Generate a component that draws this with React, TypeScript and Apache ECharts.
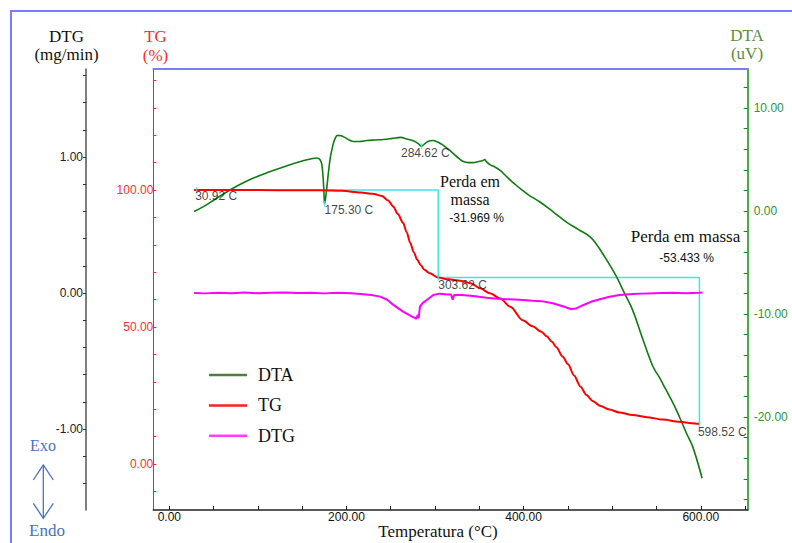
import React, { useEffect, useRef } from "react";
import * as echarts from "echarts";

// ---- Data ----
const tgTemps = [28, 30.92, 60, 100, 140, 170, 195, 216, 230, 240, 247, 253, 258, 264, 268, 272, 276, 280, 284, 288, 294, 303.62, 315, 328, 340, 351, 362, 373.5, 385, 399, 410, 420, 426, 432, 437, 444, 450, 457, 464, 471, 478, 486, 497, 508, 523, 539, 557, 576, 590, 598.52];
const tgValues = [100.0, 100.0, 100.0, 100.0, 99.9, 99.9, 99.7, 99.1, 98.6, 97.8, 96.2, 93.9, 91.2, 88.0, 84.6, 80.7, 77.3, 74.5, 72.5, 70.9, 69.6, 68.03, 67.4, 66.9, 66.0, 64.1, 62.3, 60.4, 57.4, 52.5, 50.3, 48.3, 46.6, 44.6, 42.6, 39.2, 36.5, 32.3, 28.3, 25.2, 23.0, 21.3, 19.9, 18.8, 17.9, 17.1, 16.2, 15.4, 14.9, 14.6];

const dtaTemps = [28, 40, 50, 62, 77, 95, 115, 133, 152, 162, 167, 170, 172, 173.5, 174.5, 175.3, 176.5, 178, 180, 182, 184.5, 187, 190, 194, 198, 203, 208, 215, 223, 232, 242, 252, 261, 268, 276, 281, 284.62, 288, 292, 297, 303, 309, 315, 321, 327, 332, 338, 343, 349, 354, 356, 358, 362, 368, 373.5, 379, 385, 391, 396, 405, 418, 433, 448, 462, 475, 482, 489, 497, 505, 514, 523, 534, 546, 553, 561, 569, 576, 584, 591, 601.5];
const dtaValues = [-0.05, 0.5, 1.05, 1.7, 2.45, 3.2, 3.85, 4.4, 4.9, 5.1, 5.15, 5.0, 4.6, 3.4, 2.0, 0.7, 1.3, 2.4, 4.0, 5.3, 6.3, 7.0, 7.35, 7.3, 7.15, 6.9, 6.75, 6.75, 6.85, 6.9, 6.95, 7.05, 7.15, 7.0, 6.8, 6.55, 6.3, 6.5, 6.75, 6.85, 6.7, 6.4, 6.0, 5.55, 5.1, 4.8, 4.7, 4.7, 4.8, 4.9, 5.0, 4.8, 4.5, 4.25, 3.95, 3.5, 3.0, 2.55, 2.2, 1.6, 0.9, -0.05, -1.05, -1.8, -2.5, -3.2, -4.1, -5.2, -6.4, -8.0, -9.6, -12.3, -15.1, -16.1, -17.4, -18.7, -20.0, -21.6, -22.9, -25.95];

const dtgTemps = [28, 40, 55, 70, 85, 100, 115, 130, 145, 160, 175, 190, 205, 216, 228, 238, 246, 253, 259, 264, 270, 274, 277, 279, 280.5, 281.5, 283, 286, 291, 298, 305, 312, 318, 320, 321.5, 330, 343, 358, 370, 381, 395, 410, 420, 433, 445, 454, 460, 467, 476, 486, 497, 508, 523, 540, 555, 568, 583, 598, 602];
const dtgValues = [0.0, -0.003, 0.002, -0.002, 0.003, -0.002, 0.001, 0.004, -0.001, 0.002, -0.003, 0.001, -0.002, -0.007, -0.015, -0.027, -0.05, -0.088, -0.115, -0.137, -0.16, -0.174, -0.182, -0.19, -0.16, -0.186, -0.1, -0.075, -0.05, -0.015, -0.005, -0.01, -0.012, -0.05, -0.015, -0.015, -0.022, -0.035, -0.042, -0.046, -0.05, -0.057, -0.06, -0.076, -0.1, -0.12, -0.112, -0.09, -0.065, -0.046, -0.028, -0.015, -0.008, -0.003, 0.0, 0.001, -0.002, 0.002, 0.004];

// mass loss step (TG axis)
const stepTemps = [30.92, 303.62, 303.62, 598.52, 598.52];
const stepValues = [100.0, 100.0, 68.031, 68.031, 14.598];

// temperature markers
const tgMarkTemps = [30.92, 303.62, 598.52];
const tgMarkValues = [100.0, 68.031, 14.598];
const tgMarkLabels = ["30.92 C", "303.62 C", "598.52 C"];
const dtaMarkTemps = [175.3, 284.62];
const dtaMarkValues = [0.7, 6.3];
const dtaMarkLabels = ["175.30 C", "284.62 C"];

// ticks
const xTicks = [0, 50, 100, 150, 200, 250, 300, 350, 400, 450, 500, 550, 600, 650];
const xLabels = [0, 200, 400, 600];
const tgTicks = [-10, 0, 10, 20, 30, 40, 50, 60, 70, 80, 90, 100, 110, 120, 130, 140];
const tgLabels = [0, 50, 100];
const dtgTicks = [-1.4, -1.2, -1.0, -0.8, -0.6, -0.4, -0.2, 0, 0.2, 0.4, 0.6, 0.8, 1.0, 1.2, 1.4, 1.6];
const dtgLabels = [-1, 0, 1];
const dtaTicks = [-28, -26, -24, -22, -20, -18, -16, -14, -12, -10, -8, -6, -4, -2, 0, 2, 4, 6, 8, 10, 12];
const dtaLabels = [-20, -10, 0, 10];

const zip = (a: number[], b: number[]) => a.map((v, i) => [v, b[i]]);

const SANS = "Liberation Sans";
const SERIF = "Liberation Serif";

export default function App() {
  const ref = useRef<HTMLDivElement>(null);
  useEffect(() => {
    if (!ref.current) return;
    const chart = echarts.init(ref.current, undefined, { renderer: "svg" });
    const fmt = (v: number) => Number(v).toFixed(2);
    const txt = (text: string, x: number, y: number, opts: any = {}) => ({
      type: "text",
      x,
      y,
      silent: true,
      style: {
        text,
        font: `${opts.size || 17}px "${opts.family || SERIF}"`,
        fill: opts.color || "#111",
        align: opts.align || "center",
        verticalAlign: "middle",
      },
    });
    const markLabel = (dx: number, dy: number) => ({
      show: true,
      position: ["50%", "50%"],
      align: "left",
      verticalAlign: "middle",
      offset: [dx, dy],
      formatter: "{b}",
      color: "#111",
      fontFamily: SANS,
      fontSize: 12,
    });
    const tgOffsets = [[-1.5, 6.5], [0, 7.4], [-1.5, 7.7]];
    const dtaOffsets = [[0, 6.5], [-20.4, 7.3]];
    const blue = "#4a70c8";

    chart.setOption({
      animation: false,
      backgroundColor: "#ffffff",
      grid: { left: 153.3, right: 44.3, top: 69, bottom: 33 },
      legend: {
        data: [
          { name: "DTA", itemStyle: { color: "#4e7d3c" } },
          { name: "TG", itemStyle: { color: "#ff2020" } },
          { name: "DTG", itemStyle: { color: "#ff40ff" } },
        ],
        icon: "rect",
        orient: "vertical",
        left: 204,
        top: 361,
        itemWidth: 38,
        itemHeight: 2.5,
        itemGap: 12.4,
        textStyle: { fontFamily: SERIF, fontSize: 18, color: "#111", lineHeight: 18, padding: [0, 0, 0, 6] },
      },
      xAxis: [
        {
          type: "value",
          position: "bottom",
          min: -18.06,
          max: 653,
          axisLine: { show: true, onZero: false, lineStyle: { color: "#222", width: 1.5 } },
          axisTick: { show: true, inside: true, length: 4, customValues: xTicks, lineStyle: { color: "#222" } },
          axisLabel: { customValues: xLabels, formatter: fmt, color: "#111", fontFamily: SANS, fontSize: 12, margin: 1 },
          splitLine: { show: false },
        },
        {
          type: "value",
          position: "top",
          min: -18.06,
          max: 653,
          axisLine: { show: true, onZero: false, lineStyle: { color: "#7b7bff", width: 2 } },
          axisTick: { show: false },
          axisLabel: { show: false },
          splitLine: { show: false },
        },
      ],
      yAxis: [
        {
          type: "value",
          position: "left",
          offset: 0,
          min: -16.79,
          max: 144.16,
          axisLine: { show: true, onZero: false, lineStyle: { color: "#ff2020", width: 1 } },
          axisTick: { show: true, inside: true, length: 3, customValues: tgTicks, lineStyle: { color: "#ff2020" } },
          axisLabel: { customValues: tgLabels, formatter: fmt, color: "#ff3030", fontFamily: SANS, fontSize: 12, margin: 0 },
          splitLine: { show: false },
        },
        {
          type: "value",
          position: "left",
          offset: 67.3,
          min: -1.596,
          max: 1.647,
          axisLine: { show: true, onZero: false, lineStyle: { color: "#555", width: 1.5 } },
          axisTick: { show: true, inside: false, length: 3, customValues: dtgTicks, lineStyle: { color: "#333" } },
          axisLabel: { customValues: dtgLabels, formatter: fmt, color: "#222", fontFamily: SANS, fontSize: 12, margin: 3 },
          splitLine: { show: false },
        },
        {
          type: "value",
          position: "right",
          offset: 0,
          min: -29.03,
          max: 13.79,
          axisLine: { show: true, onZero: false, lineStyle: { color: "#0f8f0f", width: 1.5 } },
          axisTick: { show: true, inside: true, length: 4, customValues: dtaTicks, lineStyle: { color: "#0f8f0f" } },
          axisLabel: { customValues: dtaLabels, formatter: fmt, color: "#2e962e", fontFamily: SANS, fontSize: 12, margin: 6 },
          splitLine: { show: false },
        },
      ],
      series: [
        {
          name: "Step",
          type: "line",
          xAxisIndex: 0,
          yAxisIndex: 0,
          data: zip(stepTemps, stepValues),
          symbol: "none",
          lineStyle: { color: "#40e4ee", width: 1.5 },
          itemStyle: { color: "#40e4ee" },
          z: 1,
        },
        {
          name: "DTA",
          type: "line",
          xAxisIndex: 0,
          yAxisIndex: 2,
          data: zip(dtaTemps, dtaValues),
          symbol: "none",
          showSymbol: false,
          smooth: 0.4,
          lineStyle: { color: "#117c11", width: 1.6 },
          itemStyle: { color: "#117c11" },
          z: 2,
        },
        {
          name: "TG",
          type: "line",
          xAxisIndex: 0,
          yAxisIndex: 0,
          data: zip(tgTemps, tgValues),
          symbol: "none",
          showSymbol: false,
          smooth: 0.3,
          smoothMonotone: "x",
          lineStyle: { color: "#ff0000", width: 2 },
          itemStyle: { color: "#ff0000" },
          z: 3,
        },
        {
          name: "DTG",
          type: "line",
          xAxisIndex: 0,
          yAxisIndex: 1,
          data: zip(dtgTemps, dtgValues),
          symbol: "none",
          showSymbol: false,
          lineStyle: { color: "#ff00ff", width: 2 },
          itemStyle: { color: "#ff00ff" },
          z: 3,
        },
        {
          name: "TGmarks",
          type: "scatter",
          xAxisIndex: 0,
          yAxisIndex: 0,
          symbol: "rect",
          symbolSize: [1.5, 6],
          itemStyle: { color: "#40e4ee" },
          z: 5,
          data: tgMarkTemps.map((t, i) => ({
            name: tgMarkLabels[i],
            value: [t, tgMarkValues[i]],
            label: markLabel(tgOffsets[i][0], tgOffsets[i][1]),
          })),
        },
        {
          name: "DTAmarks",
          type: "scatter",
          xAxisIndex: 0,
          yAxisIndex: 2,
          symbol: "rect",
          symbolSize: [1.5, 6],
          itemStyle: { color: "#40e4ee" },
          z: 5,
          data: dtaMarkTemps.map((t, i) => ({
            name: dtaMarkLabels[i],
            value: [t, dtaMarkValues[i]],
            label: markLabel(dtaOffsets[i][0], dtaOffsets[i][1]),
          })),
        },
      ],
      graphic: [
        {
          type: "rect",
          silent: true,
          z: -10,
          shape: { x: 11, y: 11, width: 1000, height: 1000 },
          style: { fill: "none", stroke: "#7b7bff", lineWidth: 2 },
        },
        txt("DTG", 66.5, 36),
        txt("(mg/min)", 66.5, 54),
        txt("TG", 155.5, 36.5, { color: "#ff2a2a" }),
        txt("(%)", 155.5, 55, { color: "#ff2a2a" }),
        txt("DTA", 747, 35, { color: "#5a8f3f" }),
        txt("(uV)", 747, 53.5, { color: "#5a8f3f" }),
        txt("Temperatura (°C)", 438, 531),
        txt("Perda em", 470, 181, { size: 16 }),
        txt("massa", 470, 199.5, { size: 16 }),
        txt("-31.969 %", 449.3, 218, { family: SANS, size: 12, align: "left" }),
        txt("Perda em massa", 685.5, 236),
        txt("-53.433 %", 659.3, 258.3, { family: SANS, size: 12, align: "left" }),
        txt("Exo", 43, 445, { color: blue, size: 16 }),
        txt("Endo", 47, 530.5, { color: blue, size: 17 }),
        {
          type: "line",
          silent: true,
          shape: { x1: 43.3, y1: 465, x2: 43.3, y2: 518.3 },
          style: { stroke: blue, lineWidth: 1.3 },
        },
        {
          type: "polyline",
          silent: true,
          shape: { points: [[33.3, 480], [43.3, 465], [53.3, 480]] },
          style: { stroke: blue, lineWidth: 1.3, fill: "none" },
        },
        {
          type: "polyline",
          silent: true,
          shape: { points: [[33.3, 503.3], [43.3, 518.3], [53.3, 503.3]] },
          style: { stroke: blue, lineWidth: 1.3, fill: "none" },
        },
      ],
    });
    return () => chart.dispose();
  }, []);
  return (
    <div
      ref={ref}
      style={{ position: "fixed", left: 0, top: 0, width: 792, height: 543, background: "#fff" }}
    />
  );
}
